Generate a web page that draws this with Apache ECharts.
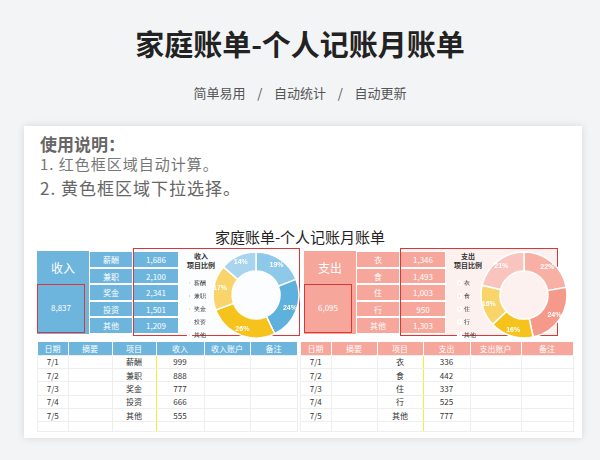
<!DOCTYPE html>
<html><head><meta charset="utf-8">
<script src="https://cdn.jsdelivr.net/npm/echarts@6/dist/echarts.min.js"></script>
<style>
body{margin:0;width:600px;height:460px;background:#f3f4f6;font-family:"Noto Sans CJK SC","Noto Sans",sans-serif;position:relative;overflow:hidden}
.a{position:absolute}
.card{left:24px;top:126px;width:558px;height:312px;background:#fff;box-shadow:0 0 8px rgba(0,0,0,.12)}
table{border-collapse:collapse;position:absolute;table-layout:fixed}
td{padding:0;text-align:center;overflow:hidden;white-space:nowrap}
#chart{left:0;top:0;width:600px;height:460px}
</style></head><body>
<div class="a" style="left:0;width:600px;top:22px;text-align:center;font-size:29px;font-weight:bold;color:#222">家庭账单-个人记账月账单</div>
<div class="a" style="left:0;width:600px;top:83px;text-align:center;font-size:13px;color:#555;word-spacing:0">简单易用&nbsp;&nbsp;&nbsp;&nbsp;/&nbsp;&nbsp;&nbsp;&nbsp;自动统计&nbsp;&nbsp;&nbsp;&nbsp;/&nbsp;&nbsp;&nbsp;&nbsp;自动更新</div>
<div class="a card"></div>
<div class="a" style="left:40px;top:131px;font-size:17px;font-weight:bold;color:#666">使用说明：</div>
<div class="a" style="left:40px;top:153px;font-size:15px;color:#777;letter-spacing:1px">1. 红色框区域自动计算。</div>
<div class="a" style="left:40px;top:175px;font-size:17px;color:#666;letter-spacing:1px">2. 黄色框区域下拉选择。</div>
<div class="a" style="left:0;width:600px;top:226px;text-align:center;font-size:15px;color:#222">家庭账单-个人记账月账单</div>
<div id="blocks"></div>
<div id="chart" class="a"></div>
<script>
const incomeItems=['薪酬','兼职','奖金','投资','其他'];
const incomeValues=[1686,2100,2341,1501,1209];
const incomeTotal='8,837';
const expenseItems=['衣','食','住','行','其他'];
const expenseValues=[1346,1493,1003,950,1303];
const expenseTotal='6,095';
const incHeaders=['日期','摘要','项目','收入','收入账户','备注'];
const expHeaders=['日期','摘要','项目','支出','支出账户','备注'];
const dates=['7/1','7/2','7/3','7/4','7/5'];
const incRowItems=['薪酬','兼职','奖金','投资','其他'];
const incRowValues=[999,888,777,666,555];
const expRowItems=['衣','食','住','行','其他'];
const expRowValues=[336,442,337,525,777];
const incColors=['#8ec9ea','#5eb1dc','#f6c21c','#f9d46b','#a8d4ee'];
const expColors=['#f8b0a5','#f5998b','#f6c21c','#f9d46b','#f8c4bd'];

const fmt=v=>v.toLocaleString('en-US');
let h='';
function block(x,label,total,items,vals,bg,chartBg,title,titleColor){
  const y=251,rh=16.6;
  h+=`<div class="a" style="left:${x+96}px;top:248px;width:${x<100?167:158}px;height:88px;background:${chartBg}"></div>`;
  h+=`<div class="a" style="left:${x}px;top:${y}px;width:52px;height:${rh*2}px;background:${bg};color:#fff;font-size:12px;line-height:${rh*2}px;text-align:center">${label}</div>`;
  h+=`<div class="a" style="left:${x}px;top:${y+rh*2}px;width:52px;height:${rh*3}px;background:${bg};color:#fff;font-size:8px;line-height:${rh*3}px;text-align:center"></div>`;
  h+=`<div class="a" style="left:${x}px;top:${y+rh*2}px;width:48px;height:${rh*3-1}px;border:1.5px solid #d9383a;box-sizing:border-box;color:#fff;font-size:8px;line-height:${rh*3-3}px;text-align:center">${total}</div>`;
  items.forEach((it,i)=>{
    h+=`<div class="a" style="left:${x+52}px;top:${y+i*rh}px;width:44px;height:${rh}px;background:${bg};border:0.5px solid #fff;box-sizing:border-box;color:#fff;font-size:8px;line-height:${rh}px;text-align:center">${it}</div>`;
    h+=`<div class="a" style="left:${x+96}px;top:${y+i*rh}px;width:46px;height:${rh}px;background:${bg};border:0.5px solid #fff;box-sizing:border-box;color:#fff;font-size:8px;line-height:${rh}px;text-align:center">${fmt(vals[i])}</div>`;
  });
  h+=`<div class="a" style="left:${x+144}px;top:252px;width:40px;text-align:center;font-size:7px;font-weight:bold;line-height:9px;color:#333">${title}<br>项目比例</div>`;
  h+=`<div class="a" style="left:${x+96}px;top:248px;width:${x<100?167:158}px;height:88px;border:1.5px solid #d9383a;box-sizing:border-box"></div>`;
}
block(37,'收入',incomeTotal,incomeItems,incomeValues,'#6db5dd','#fbfdff','收入');
block(304,'支出',expenseTotal,expenseItems,expenseValues,'#f6a69b','#fdf1f0','支出');
function tbl(x,w,cols,hdr,items,vals,hbg,yl){
  let s=`<table style="left:${x}px;top:342px;width:${w}px;font-size:8px">`;
  s+='<tr style="height:13px">'+hdr.map((t,i)=>`<td style="width:${cols[i]}px;background:${hbg};color:#fff;border-right:1px solid #fff">${t}</td>`).join('')+'</tr>';
  dates.forEach((d,r)=>{
    s+='<tr style="height:13.4px">'+[d,'',items[r],vals[r],'',''].map((t,i)=>`<td style="border:0.5px solid #eee;color:#333;${i==2?'border-left:1.5px solid #f2ee3a;border-right:1.5px solid #f2ee3a;':''}">${t}</td>`).join('')+'</tr>';
  });
  s+='<tr style="height:10px">'+cols.map((c,i)=>`<td style="border:0.5px solid #eee;${i==2?'border-left:1.5px solid #f2ee3a;border-right:1.5px solid #f2ee3a;':''}"></td>`).join('')+'</tr>';
  return s+'</table>';
}
h+=tbl(37,254,[30,43,43,47,45,46],incHeaders,incRowItems,incRowValues,'#6db5dd');
h+=tbl(300,267,[30,45,45,46,50,51],expHeaders,expRowItems,expRowValues,'#f6a69b');
document.getElementById('blocks').innerHTML=h;

const chart=echarts.init(document.getElementById('chart'),null,{renderer:'canvas'});
function pie(center,items,vals,colors){
  return {type:'pie',center:center,radius:[24,43],startAngle:90,clockwise:true,silent:true,
    itemStyle:{borderColor:'#fff',borderWidth:1.5},
    label:{position:'inside',formatter:p=>Math.round(p.percent)+'%',color:'#fff',fontSize:7,fontWeight:'bold'},
    labelLine:{show:false},
    data:items.map((n,i)=>({name:n,value:vals[i],itemStyle:{color:colors[i]}}))};
}
function leg(left,items){
  return {orient:'vertical',left:left,top:275,itemWidth:3,itemHeight:3,itemGap:7,icon:'rect',
    textStyle:{fontSize:5.5,color:'#333',padding:[0,0,0,-2]},data:items};
}
chart.setOption({animation:false,
  legend:[leg(182,incomeItems),leg(452,expenseItems)],
  series:[pie([256,295],incomeItems,incomeValues,incColors),pie([524,295],expenseItems,expenseValues,expColors)]});
</script></body></html>
